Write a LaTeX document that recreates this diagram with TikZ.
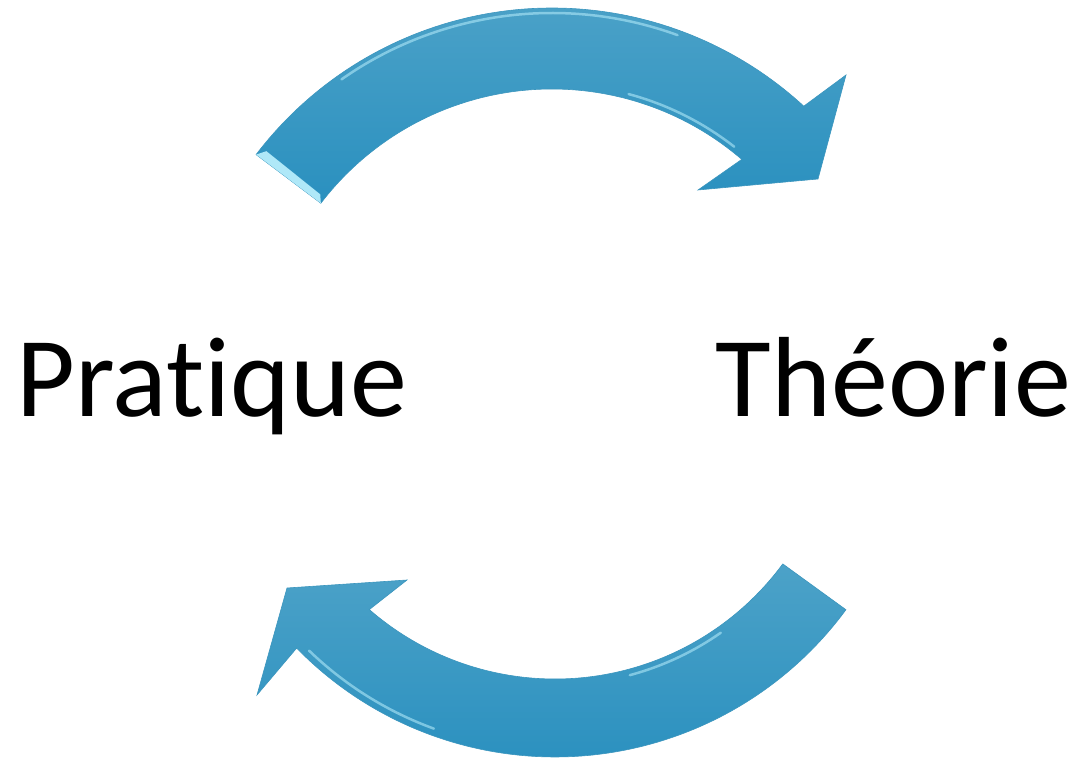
\documentclass[tikz,border=0pt]{standalone}
\usepackage{fontspec}
\setmainfont{Carlito}[Ligatures=NoCommon]
\usetikzlibrary{calc}
\definecolor{arrtop}{RGB}{76,162,200}
\definecolor{arrbot}{RGB}{42,144,191}
\definecolor{arredge}{RGB}{60,150,190}
\definecolor{arrlight}{RGB}{175,232,248}
\tikzset{
  blockarrow/.style={top color=arrtop, bottom color=arrbot, draw=arredge, line width=0.6pt, line join=miter},
  bevel/.style={fill=arrlight, draw=none},
  shine/.style={draw=arrlight, line width=2.5pt, opacity=0.6, line cap=round},
  label/.style={font=\fontsize{114pt}{120pt}\selectfont, inner sep=0pt, text=black}
}
\begin{document}
\begin{tikzpicture}[x=1pt,y=1pt]
\useasboundingbox (0,0) rectangle (1079,760);
\coordinate (c1) at (552,380);
\coordinate (c2) at (555,364);
% top arrow (Pratique -> Theorie)
\path[blockarrow] ($(c1)+(142.7:372)$) arc[start angle=142.7, end angle=47.4, radius=372]
  -- (846,685) -- (818,581) -- (698,570)
  -- ($(c1)+(49.3:291)$) arc[start angle=49.3, end angle=142.6, radius=291] -- cycle;
\path[bevel] ($(c1)+(142.7:372)$) -- ($(c1)+(142.6:291)$) -- ($(c1)+(141.3:297)$) -- ($(c1)+(141.3:366)$) -- cycle;
\draw[shine] ($(c1)+(125:367)$) arc[start angle=125, end angle=70, radius=367];
\draw[shine] ($(c1)+(75:296)$) arc[start angle=75, end angle=52, radius=296];
% bottom arrow (Theorie -> Pratique)
\path[blockarrow] ($(c2)+(-36.3:361)$) arc[start angle=-36.3, end angle=-135.7, radius=361]
  -- (257,65) -- (287,172) -- (407,180)
  -- ($(c2)+(-131:283)$) arc[start angle=-131, end angle=-36.4, radius=283] -- cycle;
\draw[shine] ($(c2)+(-134:354)$) arc[start angle=-134, end angle=-110, radius=354];
\draw[shine] ($(c2)+(-75:289)$) arc[start angle=-75, end angle=-55, radius=289];
% labels
\node[label, anchor=base west] (prat) at (16,343) {Pratique};
\node[label, anchor=base east] (theo) at (1071,343) {Théorie};
\end{tikzpicture}
\end{document}
